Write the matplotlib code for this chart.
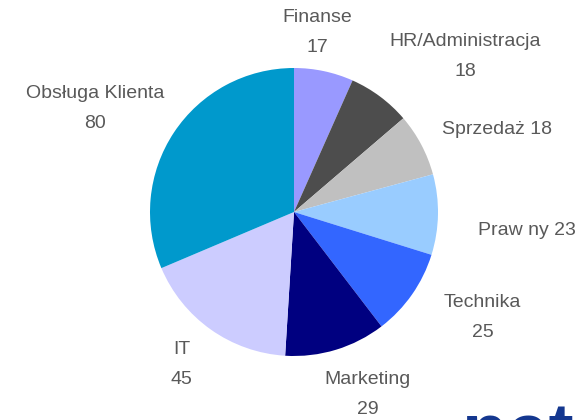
import matplotlib.pyplot as plt

departments = ['Finanse', 'HR/Administracja', 'Sprzedaż', 'Praw ny', 'Technika',
               'Marketing', 'IT', 'Obsługa Klienta']
counts = [17, 18, 18, 23, 25, 29, 45, 80]
colors = ['#9999ff', '#4d4d4d', '#c0c0c0', '#99ccff', '#3366ff',
          '#000080', '#ccccff', '#0099cc']
# label layout: two lines or one line
one_line = [False, False, True, True, False, False, False, False]

plt.rcParams['font.family'] = ['Liberation Sans', 'DejaVu Sans']

fig = plt.figure(figsize=(5.85, 4.2), dpi=100)
ax = fig.add_axes([0, 0, 1, 1])

wedges, _ = ax.pie(counts, colors=colors, startangle=90, counterclock=False,
                   radius=1, wedgeprops=dict(linewidth=0))

# label positions in pie units (radius = 1), placed like the original
label_pos = [(0.16, 1.25), (1.19, 1.08), (1.41, 0.57), (1.62, -0.13),
             (1.31, -0.73), (0.51, -1.27), (-0.78, -1.06), (-1.38, 0.72)]

for name, val, flat, (x, y) in zip(departments, counts, one_line, label_pos):
    txt = f'{name} {val}' if flat else f'{name}\n{val}'
    ax.text(x, y, txt, ha='center', va='center', fontsize=14, color='#595959',
            linespacing=2.0)

ax.set_xlim(-294 / 144, (585 - 294) / 144)
ax.set_ylim(-208 / 144, (420 - 208) / 144)
ax.set_aspect('equal')
ax.axis('off')

# partly visible logo in the corner
fig.text(462 / 585, -36 / 420, 'net', fontsize=54, fontweight='bold',
         color='#14378f', ha='left', va='baseline')

fig.savefig('out.png', dpi=100)
